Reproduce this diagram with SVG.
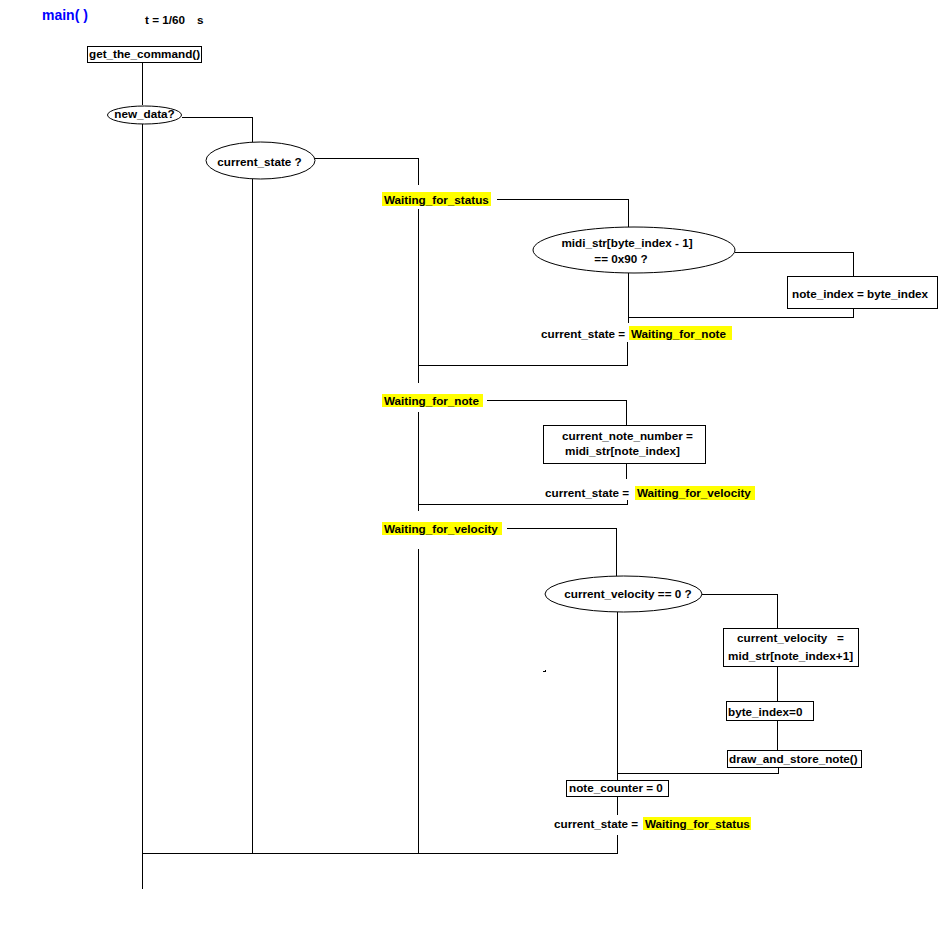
<svg xmlns="http://www.w3.org/2000/svg" width="945" height="932" viewBox="0 0 945 932">
<style>
text{font-family:"Liberation Sans",Arial,sans-serif;font-weight:bold;font-size:11.7px;fill:#000}
.box{fill:#fff;stroke:#000;stroke-width:1}
.ell{fill:#fff;stroke:#000;stroke-width:1}
.hl{fill:#ffff00}
.c{fill:none;stroke:#000;stroke-width:1}
.mid{text-anchor:middle}
</style>
<rect width="945" height="932" fill="#fff"/>
<g id="connectors" shape-rendering="crispEdges">
<path class="c" d="M142.5 62.5V105"/>
<path class="c" d="M142.5 124V888.5"/>
<path class="c" d="M182 117.5H252.5V142"/>
<path class="c" d="M252.5 179V853.5"/>
<path class="c" d="M142.5 853.5H617.5V835"/>
<path class="c" d="M315 158.5H418.5V185"/>
<path class="c" d="M418.5 209V383"/>
<path class="c" d="M418.5 412V511"/>
<path class="c" d="M418.5 549V853.5"/>
<path class="c" d="M497 199.5H628.5V227"/>
<path class="c" d="M735 252.5H853.5V276"/>
<path class="c" d="M853.5 308V317.5H628.5"/>
<path class="c" d="M628.5 273V323"/>
<path class="c" d="M627.5 342V365.5H418.5"/>
<path class="c" d="M487 400.5H626.5V425"/>
<path class="c" d="M626.5 464V479"/>
<path class="c" d="M418.5 504.5H627.5V500"/>
<path class="c" d="M507 528.5H616.5V576"/>
<path class="c" d="M702 594.5H777.5V628"/>
<path class="c" d="M777.5 667V701"/>
<path class="c" d="M777.5 720V750"/>
<path class="c" d="M778.5 767V773.5H617.5"/>
<path class="c" d="M617.5 612V781"/>
<path class="c" d="M617.5 796V815"/>
<path d="M543 671.5H546M545 670.5H546" stroke="#000" stroke-width="1"/>
</g>
<g id="title">
<text x="42" y="20" style="font-size:14px;fill:#0000ff">main( )</text>
<text x="145" y="24">t = 1/60</text>
<text x="197" y="24">s</text>
</g>
<g id="get_the_command">
<rect class="box" x="87.5" y="46.5" width="114" height="16" shape-rendering="crispEdges"/>
<text x="89" y="58">get_the_command()</text>
</g>
<g id="new_data">
<ellipse class="ell" cx="144.5" cy="115" rx="37" ry="9"/>
<text class="mid" x="144.5" y="118">new_data?</text>
</g>
<g id="current_state">
<ellipse class="ell" cx="260.5" cy="160.5" rx="54.5" ry="18.5"/>
<text class="mid" x="259.5" y="166">current_state ?</text>
</g>
<g id="waiting_for_status">
<rect class="hl" x="382" y="192" width="109" height="14"/>
<text x="384" y="204">Waiting_for_status</text>
</g>
<g id="midi_check">
<ellipse class="ell" cx="634" cy="250" rx="101" ry="23"/>
<text class="mid" x="627" y="247">midi_str[byte_index - 1]</text>
<text class="mid" x="621" y="263">== 0x90 ?</text>
</g>
<g id="note_index">
<rect class="box" x="787.5" y="276.5" width="150" height="32" shape-rendering="crispEdges"/>
<text x="792" y="298">note_index = byte_index</text>
</g>
<g id="set_waiting_for_note">
<text x="541" y="338">current_state =</text>
<rect class="hl" x="629" y="326" width="103" height="14"/>
<text x="631" y="338">Waiting_for_note</text>
</g>
<g id="waiting_for_note">
<rect class="hl" x="382" y="394" width="101" height="13"/>
<text x="384" y="405">Waiting_for_note</text>
</g>
<g id="current_note_number">
<rect class="box" x="543.5" y="425.5" width="162" height="38" shape-rendering="crispEdges"/>
<text x="562" y="440">current_note_number =</text>
<text x="565" y="455">midi_str[note_index]</text>
</g>
<g id="set_waiting_for_velocity">
<text x="545" y="497">current_state =</text>
<rect class="hl" x="635" y="486" width="120" height="14"/>
<text x="637" y="497">Waiting_for_velocity</text>
</g>
<g id="waiting_for_velocity">
<rect class="hl" x="382" y="522" width="120" height="13"/>
<text x="384" y="533">Waiting_for_velocity</text>
</g>
<g id="velocity_check">
<ellipse class="ell" cx="623.5" cy="594" rx="78.5" ry="18"/>
<text class="mid" x="628" y="598">current_velocity == 0 ?</text>
</g>
<g id="current_velocity">
<rect class="box" x="723.5" y="628.5" width="135" height="38" shape-rendering="crispEdges"/>
<text x="737" y="642" xml:space="preserve">current_velocity   =</text>
<text x="728" y="660">mid_str[note_index+1]</text>
</g>
<g id="byte_index_reset">
<rect class="box" x="726.5" y="701.5" width="87" height="19" shape-rendering="crispEdges"/>
<text x="728" y="716">byte_index=0</text>
</g>
<g id="draw_and_store_note">
<rect class="box" x="727.5" y="750.5" width="134" height="17" shape-rendering="crispEdges"/>
<text x="729" y="763">draw_and_store_note()</text>
</g>
<g id="note_counter">
<rect class="box" x="566.5" y="780.5" width="102" height="16" shape-rendering="crispEdges"/>
<text x="569" y="792">note_counter = 0</text>
</g>
<g id="set_waiting_for_status">
<text x="554" y="828">current_state =</text>
<rect class="hl" x="643" y="817" width="108" height="13"/>
<text x="645" y="828">Waiting_for_status</text>
</g>
</svg>
